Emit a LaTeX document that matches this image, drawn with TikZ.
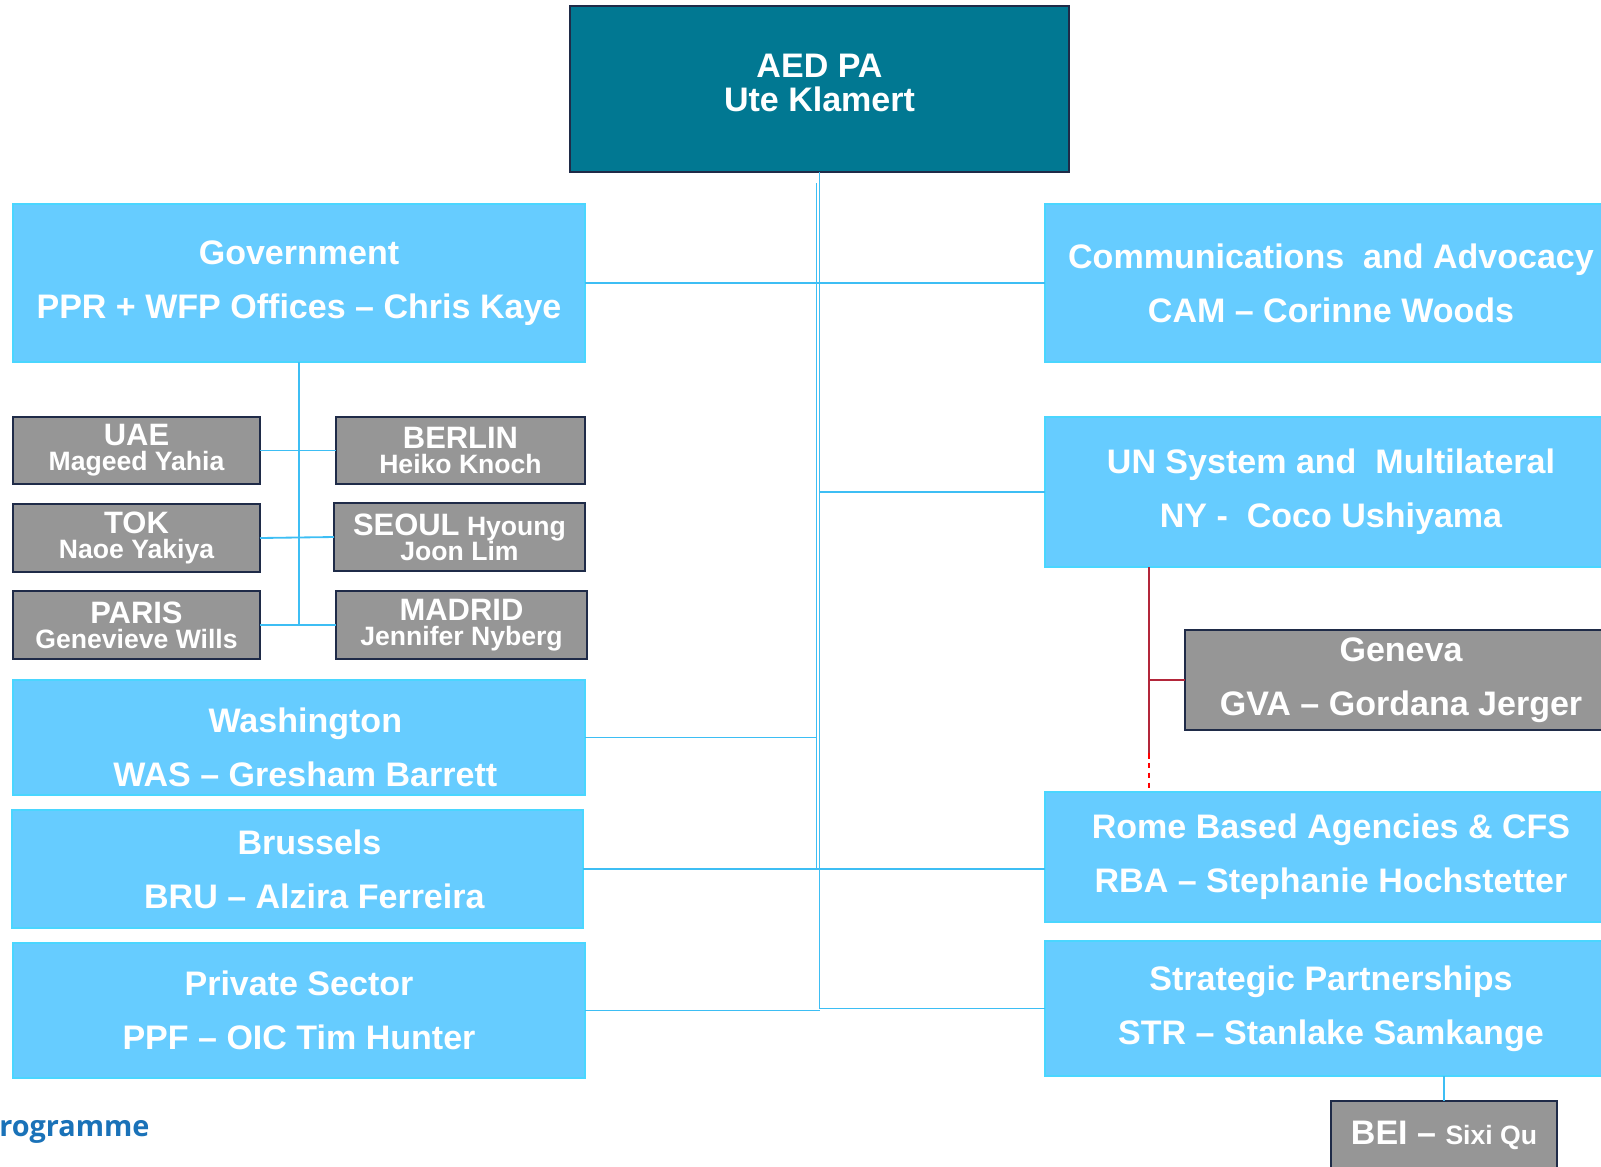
\documentclass[tikz,border=0pt]{standalone}
\usepackage{fontspec}
\setmainfont{Liberation Sans}
\newfontfamily\logofont{Open Sans}
\definecolor{aedteal}{HTML}{017892}
\definecolor{unitblue}{HTML}{66CCFF}
\definecolor{unitedge}{HTML}{4AD6FF}
\definecolor{officegray}{HTML}{969696}
\definecolor{navyedge}{HTML}{1F2B48}
\definecolor{linkblue}{HTML}{3DBEF4}
\definecolor{linkred}{HTML}{B3263A}
\definecolor{wfpblue}{HTML}{1A72B8}
\begin{document}
\begin{tikzpicture}[x=0.025cm,y=-0.025cm,
        boxdim/.style 2 args={minimum width=#1*0.025cm,minimum height=#2*0.025cm},
        box/.style={anchor=north west,inner sep=0pt,outer sep=0pt,align=center,text=white},
        headbox/.style={box,fill=aedteal,draw=navyedge,line width=1.2pt,font=\fontsize{24.2}{24}\selectfont\bfseries},
        unitbox/.style={box,fill=unitblue,draw=unitedge,line width=0.8pt,font=\fontsize{24.2}{38.4}\selectfont\bfseries},
        greybox/.style={box,fill=officegray,draw=navyedge,line width=1.2pt,font=\fontsize{24.2}{38.4}\selectfont\bfseries},
        officebox/.style={box,fill=officegray,draw=navyedge,line width=1.2pt,font=\fontsize{18.9}{18}\selectfont\bfseries},
        link/.style={draw=linkblue,line width=1.3pt},
        redlink/.style={draw=linkred,line width=1.3pt}]
        \useasboundingbox (0,0) rectangle (1601,1166);
        \node[headbox,boxdim={499}{166}] (aed) at (570,6) {AED PA\\Ute Klamert\rule[-9pt]{0pt}{1pt}};
        \node[unitbox,boxdim={572}{158}] (gov) at (13,204) {Government\\PPR + WFP Offices – Chris Kaye};
        \node[unitbox,boxdim={572}{158}] (cam) at (1045,204) {Communications~ and Advocacy\\CAM – Corinne Woods};
        \node[unitbox,boxdim={572}{150}] (un) at (1045,417) {UN System and~ Multilateral\\NY -~ Coco Ushiyama};
        \node[greybox,boxdim={432}{100}] (geneva) at (1185,630) {Geneva\\GVA – Gordana Jerger};
        \node[unitbox,boxdim={572}{130}] (rba) at (1045,792) {Rome Based Agencies \& CFS\\RBA – Stephanie Hochstetter};
        \node[unitbox,boxdim={572}{135}] (strat) at (1045,941) {Strategic Partnerships\\STR – Stanlake Samkange};
        \node[greybox,boxdim={226}{68}] (bei) at (1331,1101) {BEI – {\fontsize{18.9}{18}\selectfont Sixi Qu}};
        \node[officebox,boxdim={247}{67}] (uae) at (13,417) {{\fontsize{22}{18}\selectfont UAE}\\Mageed Yahia};
        \node[officebox,boxdim={249}{67}] (berlin) at (336,417) {{\fontsize{22}{18}\selectfont BERLIN}\\Heiko Knoch};
        \node[officebox,boxdim={247}{68}] (tok) at (13,504) {{\fontsize{22}{18}\selectfont TOK}\\Naoe Yakiya};
        \node[officebox,boxdim={251}{68}] (seoul) at (334,503) {{\fontsize{22}{18}\selectfont SEOUL} Hyoung\\Joon Lim};
        \node[officebox,boxdim={247}{68}] (paris) at (13,591) {{\fontsize{22}{18}\selectfont PARIS}\\Genevieve Wills};
        \node[officebox,boxdim={251}{68}] (madrid) at (336,591) {{\fontsize{22}{18}\selectfont MADRID}\\Jennifer Nyberg};
        \node[unitbox,boxdim={572}{115}] (was) at (13,680) {\hspace*{9pt}\rule{0pt}{31.8pt}Washington\\\hspace*{9pt}WAS – Gresham Barrett};
        \node[unitbox,boxdim={571}{118}] (bru) at (12,810) {\hspace*{17pt}Brussels\\\hspace*{24pt}BRU – Alzira Ferreira};
        \node[unitbox,boxdim={572}{135}] (ppf) at (13,943) {Private Sector\\PPF – OIC Tim Hunter};
        \node[anchor=base west,inner sep=0pt,text=wfpblue,font=\fontsize{20.5}{20}\selectfont\logofont\bfseries] (wfp) at (-1,1136) {rogramme};
        \coordinate (trunkA) at (816.5,183);
        \coordinate (gvjoin) at (1149,567);
        \draw[link] (aed.south) -- (aed.south |- strat.west) -- (strat.west);
        \draw[link] (trunkA) -- (trunkA |- bru.east);
        \draw[link] (gov.east) -- (cam.west);
        \draw[link] (aed.south |- un.west) -- (un.west);
        \draw[link] (was.east) -- (was.east -| trunkA);
        \draw[link] (bru.east) -- (bru.east -| rba.west);
        \draw[link] (ppf.east) -- (ppf.east -| aed.south);
        \draw[link] (gov.south) -- (gov.south |- paris.east);
        \draw[link] (uae.east) -- (berlin.west);
        \draw[link] (tok.east) -- (seoul.west);
        \draw[link] (paris.east) -- (madrid.west);
        \draw[link] (bei.north) -- (bei.north |- strat.south);
        \draw[redlink] (gvjoin) -- ++(0,186) coordinate (gvend);
        \draw[redlink] (gvjoin |- geneva.west) -- (geneva.west);
        \draw[red,line width=1.3pt,dash pattern=on 4pt off 3pt] (gvend) -- (gvend |- rba.north);
\end{tikzpicture}
\end{document}
